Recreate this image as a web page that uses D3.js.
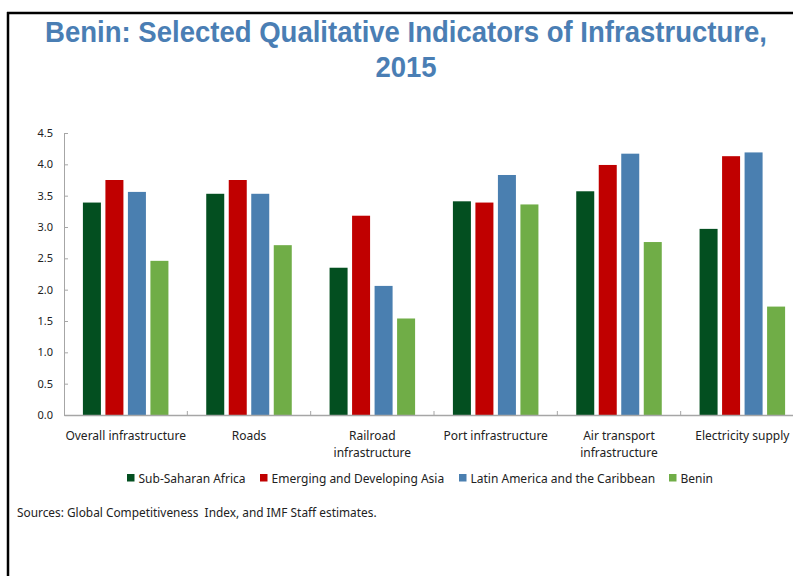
<!DOCTYPE html>
<html>
<head>
<meta charset="utf-8">
<script src="https://cdn.jsdelivr.net/npm/d3@7"></script>
<style>
  html, body { margin: 0; padding: 0; background: #fff; }
  svg { display: block; }
</style>
</head>
<body>
<svg id="chart" width="793" height="576"></svg>
<script>
// Infrastructure quality scores (1–7 scale), 2015
const categories = [
  "Overall infrastructure",
  "Roads",
  "Railroad infrastructure",
  "Port infrastructure",
  "Air transport infrastructure",
  "Electricity supply"
];
const categoryLines = [
  ["Overall infrastructure"],
  ["Roads"],
  ["Railroad", "infrastructure"],
  ["Port infrastructure"],
  ["Air transport", "infrastructure"],
  ["Electricity supply"]
];
const seriesNames = [
  "Sub-Saharan Africa",
  "Emerging and Developing Asia",
  "Latin America and the Caribbean",
  "Benin"
];
const subSaharanAfrica = [3.39, 3.53, 2.35, 3.41, 3.57, 2.97];
const emergingAsia     = [3.75, 3.75, 3.18, 3.39, 3.99, 4.13];
const latinAmerica     = [3.56, 3.53, 2.06, 3.83, 4.17, 4.19];
const benin            = [2.46, 2.71, 1.54, 3.36, 2.76, 1.73];
const seriesValues = [subSaharanAfrica, emergingAsia, latinAmerica, benin];
const seriesColors = ["#034f20", "#c00000", "#4a7fb0", "#70ad47"];
const yTicks = [0, 0.5, 1.0, 1.5, 2.0, 2.5, 3.0, 3.5, 4.0, 4.5];

const svg = d3.select("#chart");
const font = "'Noto Sans', 'Open Sans', sans-serif";

// Frame: top rule and left rule
svg.append("line").attr("x1", 7).attr("x2", 793).attr("y1", 13).attr("y2", 13)
  .attr("stroke", "#000").attr("stroke-width", 2.5);
svg.append("line").attr("x1", 8).attr("x2", 8).attr("y1", 12).attr("y2", 576)
  .attr("stroke", "#000").attr("stroke-width", 2.5);

// Title: bold, narrowed with a horizontal scale for a condensed look
const titleFont = "'Liberation Sans', Arial, sans-serif";
const titleColor = "#4a7eb4";
const titleSize = 29;
const titleWidth = 722, titleCenter = 406;
const g1 = svg.append("g");
const t1 = g1.append("text").attr("x", 0).attr("y", 0).attr("text-anchor", "middle")
  .attr("font-family", titleFont).attr("font-weight", "bold")
  .attr("font-size", titleSize).attr("fill", titleColor)
  .text("Benin: Selected Qualitative Indicators of Infrastructure,");
const squeeze = titleWidth / t1.node().getComputedTextLength();
g1.attr("transform", `translate(${titleCenter},42) scale(${squeeze},1)`);
svg.append("g").attr("transform", `translate(${titleCenter},77) scale(${squeeze},1)`)
  .append("text").attr("x", 0).attr("y", 0).attr("text-anchor", "middle")
  .attr("font-family", titleFont).attr("font-weight", "bold")
  .attr("font-size", titleSize).attr("fill", titleColor)
  .text("2015");

// Scales
const plotLeft = 64, plotRight = 804, plotTop = 133, plotBottom = 415;
const x0 = d3.scaleBand().domain(categories).range([plotLeft, plotRight]).padding(0);
const x1 = d3.scaleBand().domain(seriesNames).range([0, x0.bandwidth()])
  .paddingInner(0.2).paddingOuter(0.84);
const y = d3.scaleLinear().domain([0, 4.5]).range([plotBottom, plotTop]);

// Bars
const groups = svg.append("g").selectAll("g").data(categories).join("g")
  .attr("transform", d => `translate(${x0(d)},0)`);
groups.selectAll("rect")
  .data((c, i) => seriesNames.map((s, k) => ({ s, k, v: seriesValues[k][i] })))
  .join("rect")
  .attr("x", d => x1(d.s))
  .attr("width", x1.bandwidth())
  .attr("y", d => y(d.v))
  .attr("height", d => y(0) - y(d.v))
  .attr("fill", d => seriesColors[d.k]);

// Y axis
const yAxis = svg.append("g").attr("transform", `translate(${plotLeft},0)`)
  .call(d3.axisLeft(y).tickValues(yTicks).tickFormat(d3.format(".1f")).tickSizeInner(-4).tickSizeOuter(0).tickPadding(11));
yAxis.select(".domain").attr("stroke", "#a6a6a6");
yAxis.selectAll(".tick line").attr("stroke", "#a6a6a6");
yAxis.selectAll(".tick text").attr("font-family", font).attr("font-size", 11).attr("fill", "#222");

// X axis
const xAxis = svg.append("g").attr("transform", `translate(0,${plotBottom})`)
  .call(d3.axisBottom(x0).tickValues([]).tickSizeOuter(0));
xAxis.select(".domain").attr("stroke", "#a6a6a6").attr("stroke-width", 1.5);
// Category separator ticks (pointing up)
svg.append("g").selectAll("line").data(categories.slice(1)).join("line")
  .attr("x1", d => x0(d)).attr("x2", d => x0(d))
  .attr("y1", plotBottom).attr("y2", plotBottom - 4)
  .attr("stroke", "#a6a6a6");

// Category labels
categories.forEach((c, i) => {
  const tx = svg.append("text").attr("text-anchor", "middle")
    .attr("font-family", font).attr("font-size", 12).attr("fill", "#222");
  categoryLines[i].forEach((ln, j) => {
    tx.append("tspan").attr("x", x0(c) + x0.bandwidth() / 2).attr("y", 440 + j * 17).text(ln);
  });
});

// Legend
const legendX = [127, 260, 459, 669];
const leg = svg.append("g").selectAll("g").data(seriesNames).join("g")
  .attr("transform", (d, i) => `translate(${legendX[i]},474)`);
leg.append("rect").attr("width", 7.5).attr("height", 7.5).attr("fill", (d, i) => seriesColors[i]);
leg.append("text").attr("x", 11.5).attr("y", 8.5)
  .attr("font-family", font).attr("font-size", 12).attr("fill", "#222").text(d => d);

// Source note, narrowed with a horizontal scale
const src = svg.append("g");
const srcText = src.append("text").attr("x", 0).attr("y", 0)
  .attr("font-family", font).attr("font-size", 12).attr("fill", "#222")
  .attr("xml:space", "preserve")
  .text("Sources: Global Competitiveness  Index, and IMF Staff estimates.");
const srcScale = 360 / srcText.node().getComputedTextLength();
src.attr("transform", `translate(17,517) scale(${srcScale},1)`);
</script>
</body>
</html>
